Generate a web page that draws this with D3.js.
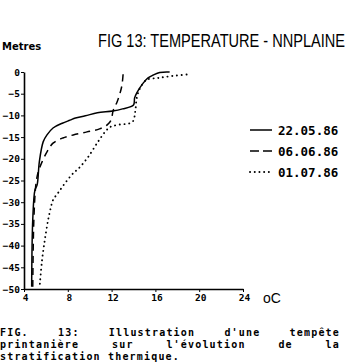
<!DOCTYPE html>
<html>
<head>
<meta charset="utf-8">
<script src="https://cdn.jsdelivr.net/npm/d3@7"></script>
<style>
  body { margin: 0; background: #fff; }
  svg { display: block; }
  .axis path, .axis line { stroke: #000; }
  .axis text { font-family: "DejaVu Sans Mono", monospace; font-weight: bold; font-size: 9.5px; fill: #000; }
</style>
</head>
<body>
<svg id="chart" width="352" height="362"></svg>
<script>
// data : [temperature oC, depth m]
var series22May = [[4.7,-49.5],[4.8,-34],[5.0,-27.2],[5.2,-26.0],[5.4,-20.7],[5.75,-16.1],[6.1,-14.5],
  [6.65,-12.9],[7.5,-11.8],[8.2,-11.1],[8.7,-10.6],[9.6,-10.1],[10.7,-9.4],[12.1,-9.0],[13.0,-8.5],
  [14.0,-7.6],[14.1,-6.0],[14.3,-4.8],[14.9,-2.5],[15.3,-1.4],[15.8,-0.7],[16.4,-0.1],[17.3,0]];
var series06Jun = [[4.8,-49.5],[4.9,-34],[5.1,-25.6],[5.3,-23.0],[5.65,-20.7],[6.1,-18.4],[6.65,-16.4],
  [7.55,-15.2],[8.5,-14.5],[9.75,-13.8],[10.9,-13.1],[11.6,-12.2],[11.95,-11.1],[12.15,-8.8],
  [12.5,-6.9],[12.8,-4.6],[12.95,-3.0],[13.05,-0.5]];
var series01Jul = [[5.45,-48.8],[5.65,-43.3],[5.9,-38.7],[6.2,-34.1],[6.4,-31.8],[6.65,-29.5],[7.1,-27.9],
  [7.75,-25.6],[8.5,-23.3],[9.0,-22.2],[9.85,-19.6],[10.75,-16.1],[11.4,-13.8],[11.85,-12.7],
  [12.5,-12.2],[13.9,-11.5],[14.15,-9.2],[14.3,-6.0],[14.6,-3.7],[15.2,-1.8],[16.2,-1.4],
  [17.6,-0.9],[19.2,-0.5]];
var seriesNames = ["22.05.86", "06.06.86", "01.07.86"];
var seriesDash = [null, "7,5", "0.1,4.6"];
var xTicks = [4, 8, 12, 16, 20, 24];
var yTicks = [0, -5, -10, -15, -20, -25, -30, -35, -40, -45, -50];
var captionLines = [
  ["FIG.", "13:", "Illustration", "d'une", "tempête"],
  ["printanière", "sur", "l'évolution", "de", "la"],
  ["stratification", "thermique."]
];

var svg = d3.select("#chart");
svg.append("rect").attr("width", 352).attr("height", 362).attr("fill", "#fff");

var x = d3.scaleLinear().domain([4, 24]).range([24, 243]);
var y = d3.scaleLinear().domain([-50, 0]).range([289, 72]);

// titles
svg.append("text").attr("x", 2).attr("y", 50)
   .style("font-family", "DejaVu Sans, sans-serif").style("font-weight", "bold").style("font-size", "10px")
   .text("Metres");
svg.append("text")
   .attr("transform", "translate(98,47) scale(0.81,1)")
   .style("font-family", "Liberation Sans, sans-serif").style("font-size", "18px")
   .text("FIG 13: TEMPERATURE - NNPLAINE");

// Axis Y
var gy = svg.append("g").attr("class", "axis")
   .attr("transform", "translate(" + x(4) + ",0)")
   .call(d3.axisLeft(y).tickValues(yTicks).tickSize(3).tickSizeOuter(0).tickPadding(1));
// Axis X
var gx = svg.append("g").attr("class", "axis")
   .attr("transform", "translate(0," + y(-50) + ")")
   .call(d3.axisBottom(x).tickValues(xTicks).tickSize(3).tickSizeOuter(0).tickPadding(2));
svg.selectAll(".axis path").attr("stroke-width", 1.6);
gx.selectAll("text").attr("dx", 1);

svg.append("text").attr("x", 263).attr("y", 303)
   .style("font-family", "Liberation Sans, sans-serif").style("font-size", "14px")
   .text("oC");

// Curves
var line = d3.line()
  .x(function(d) { return x(d[0]); })
  .y(function(d) { return y(d[1]); })
  .curve(d3.curveCatmullRom.alpha(0.5));

[series22May, series06Jun, series01Jul].forEach(function(s, i) {
  svg.append("path").datum(s)
     .attr("d", line)
     .attr("fill", "none")
     .attr("stroke", "#000")
     .attr("stroke-width", i == 2 ? 1.9 : 1.5)
     .attr("stroke-linecap", i == 2 ? "round" : "butt")
     .attr("stroke-dasharray", seriesDash[i]);
});

// Legend
var legend = svg.selectAll("g.legend").data(seriesNames).enter()
  .append("g").attr("class", "legend")
  .attr("transform", function(d, i) { return "translate(250," + (130 + i * 21) + ")"; });
legend.append("line")
  .attr("x1", 0).attr("x2", 22).attr("y1", 0).attr("y2", 0)
  .attr("stroke", "#000")
  .attr("stroke-width", function(d, i) { return i == 2 ? 1.9 : 1.5; })
  .attr("stroke-linecap", function(d, i) { return i == 2 ? "round" : "butt"; })
  .attr("stroke-dasharray", function(d, i) { return i == 1 ? "9,4" : seriesDash[i]; });
legend.append("text")
  .attr("x", 28).attr("y", 4.5)
  .style("font-family", "DejaVu Sans Mono, monospace").style("font-weight", "bold").style("font-size", "12.5px")
  .text(function(d) { return d; });

// Caption (justified typewriter text)
var charW = 7.2, lineW = 340;
captionLines.forEach(function(words, li) {
  var nChars = d3.sum(words, function(w) { return w.length; });
  var gap = li < 2 ? (lineW - nChars * charW) / (words.length - 1) : charW;
  var cx = 0;
  words.forEach(function(w) {
    svg.append("text").attr("x", cx).attr("y", 336 + li * 12)
       .style("font-family", "DejaVu Sans Mono, monospace").style("font-weight", "bold")
       .style("font-size", "10px").style("letter-spacing", "1.18px")
       .text(w);
    cx += w.length * charW + gap;
  });
});
</script>
</body>
</html>
